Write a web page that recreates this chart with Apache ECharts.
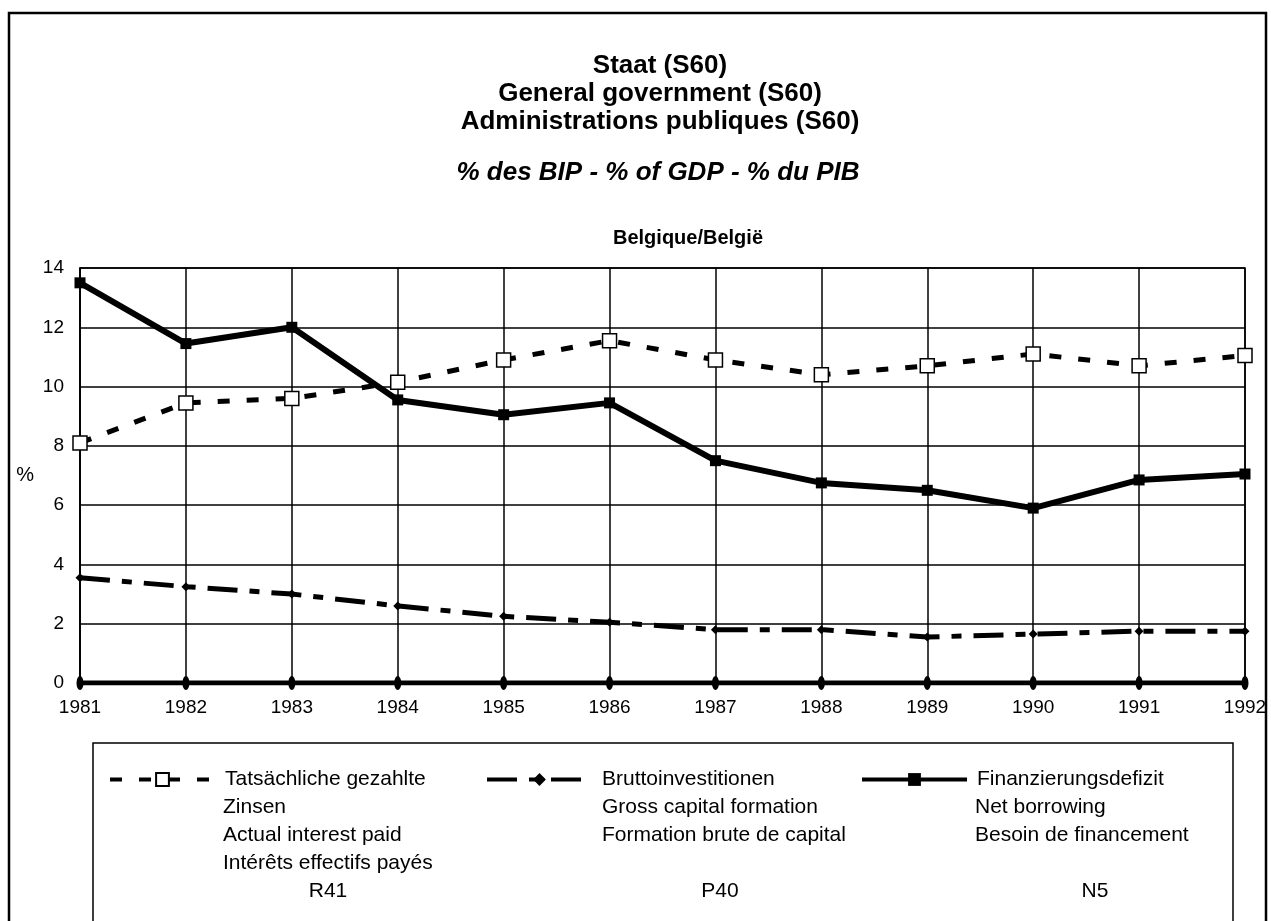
<!DOCTYPE html>
<html>
<head>
    <meta charset="utf-8">
    <title>Belgique/België</title>
    <script src="https://cdn.jsdelivr.net/npm/echarts@6/dist/echarts.min.js"></script>
    <style>
        html, body {margin: 0; padding: 0; background: #fff;}
        #chart {width: 1271px; height: 921px;}
    </style>
</head>
<body>
<div id="chart"></div>
<script>
    // data
    var years = ['1981', '1982', '1983', '1984', '1985', '1986', '1987', '1988', '1989', '1990', '1991', '1992'];
    var interestPaid = [8.1, 9.45, 9.6, 10.15, 10.9, 11.55, 10.9, 10.4, 10.7, 11.1, 10.7, 11.05];
    var grossCapital = [3.55, 3.25, 3.0, 2.6, 2.25, 2.05, 1.8, 1.8, 1.55, 1.65, 1.75, 1.75];
    var netBorrowing = [13.5, 11.45, 12.0, 9.55, 9.05, 9.45, 7.5, 6.75, 6.5, 5.9, 6.85, 7.05];
    var zeroLine = [0, 0, 0, 0, 0, 0, 0, 0, 0, 0, 0, 0];
    var yTicks = [0, 2, 4, 6, 8, 10, 12, 14];

    var titleLines = ['Staat (S60)', 'General government (S60)', 'Administrations publiques (S60)'];
    var subTitle = '% des BIP - % of GDP - % du PIB';
    var country = 'Belgique/België';

    // legend: first line is the series name, the rest is printed under it
    var legendNames = ['Tatsächliche gezahlte', 'Bruttoinvestitionen', 'Finanzierungsdefizit'];
    var legendMore = [
        ['Zinsen', 'Actual interest paid', 'Intérêts effectifs payés'],
        ['Gross capital formation', 'Formation brute de capital'],
        ['Net borrowing', 'Besoin de financement']
    ];
    var legendCodes = ['R41', 'P40', 'N5'];

    var font = "'Liberation Sans', Arial, Helvetica, sans-serif";
    var chart = echarts.init(document.getElementById('chart'), null, {renderer: 'canvas'});

    var legendX = [108, 485, 860];
    var textX = [223, 602, 975];
    var codeX = [328, 720, 1095];
    var lineGap = 28;
    var firstLineY = 780;

    var extra = [];
    legendMore.forEach(function (lines, i) {
        lines.forEach(function (t, j) {
            extra.push({
                type: 'text', left: textX[i], top: firstLineY + lineGap * (j + 1) - 11,
                style: {text: t, font: '21px ' + font, fill: '#000'}
            });
        });
        extra.push({
            type: 'text', x: codeX[i], y: firstLineY + lineGap * 4 - 11,
            style: {text: legendCodes[i], font: '21px ' + font, fill: '#000', align: 'center'}
        });
    });

    var option = {
        animation: false,
        backgroundColor: '#fff',
        title: [{
            text: titleLines.join('\n'),
            left: 660, top: 52, padding: 0, textAlign: 'center',
            textStyle: {fontFamily: font, fontSize: 26, fontWeight: 'bold', color: '#000', lineHeight: 28}
        }, {
            text: subTitle,
            left: 658, top: 160, padding: 0, textAlign: 'center',
            textStyle: {fontFamily: font, fontSize: 26, fontWeight: 'bold', fontStyle: 'italic', color: '#000'}
        }, {
            text: country,
            left: 688, top: 228, padding: 0, textAlign: 'center',
            textStyle: {fontFamily: font, fontSize: 20, fontWeight: 'bold', color: '#000'}
        }],
        legend: legendNames.map(function (n, i) {
            return {
                data: [n], left: legendX[i], top: 769, padding: 0,
                itemWidth: 105, itemHeight: 16,
                textStyle: {fontFamily: font, fontSize: 21, color: '#000', padding: [0, 0, 0, 5]},
                lineStyle: {width: 4},
                selectedMode: false
            };
        }),
        grid: {left: 80, right: 26, top: 268, bottom: 238, show: true, borderColor: '#000', borderWidth: 1.5},
        xAxis: {
            type: 'category', data: years, boundaryGap: false,
            axisLine: {show: true, lineStyle: {color: '#000', width: 1.5}},
            axisTick: {show: false},
            axisLabel: {color: '#000', fontFamily: font, fontSize: 19, margin: 15},
            splitLine: {show: true, lineStyle: {color: '#000', width: 1.5}}
        },
        yAxis: {
            type: 'value', min: yTicks[0], max: yTicks[yTicks.length - 1], interval: 2,
            name: '%', nameLocation: 'middle', nameGap: 46, nameRotate: 0,
            nameTextStyle: {color: '#000', fontFamily: font, fontSize: 20},
            axisLine: {show: true, lineStyle: {color: '#000', width: 1.5}},
            axisTick: {show: false},
            axisLabel: {color: '#000', fontFamily: font, fontSize: 19, margin: 16},
            splitLine: {show: true, lineStyle: {color: '#000', width: 1.5}}
        },
        series: [{
            name: 'zero', type: 'line', data: zeroLine,
            symbol: 'circle', symbolSize: [7, 14],
            lineStyle: {color: '#000', width: 5},
            itemStyle: {color: '#000'}
        }, {
            name: legendNames[1], type: 'line', data: grossCapital,
            symbol: 'diamond', symbolSize: 9,
            lineStyle: {color: '#000', width: 5, type: [30, 12, 10, 12]},
            itemStyle: {color: '#000'}
        }, {
            name: legendNames[0], type: 'line', data: interestPaid,
            symbol: 'rect', symbolSize: 14,
            lineStyle: {color: '#000', width: 5, type: [12, 17]},
            itemStyle: {color: '#fff', borderColor: '#000', borderWidth: 1.5}
        }, {
            name: legendNames[2], type: 'line', data: netBorrowing,
            symbol: 'rect', symbolSize: 11,
            lineStyle: {color: '#000', width: 6},
            itemStyle: {color: '#000'}
        }],
        graphic: [{
            type: 'rect', shape: {x: 9, y: 13, width: 1257, height: 950},
            style: {fill: 'none', stroke: '#000', lineWidth: 2.5}, silent: true
        }, {
            type: 'rect', shape: {x: 93, y: 743, width: 1140, height: 220},
            style: {fill: 'none', stroke: '#000', lineWidth: 1.5}, silent: true
        }].concat(extra)
    };

    chart.setOption(option);
</script>
</body>
</html>
